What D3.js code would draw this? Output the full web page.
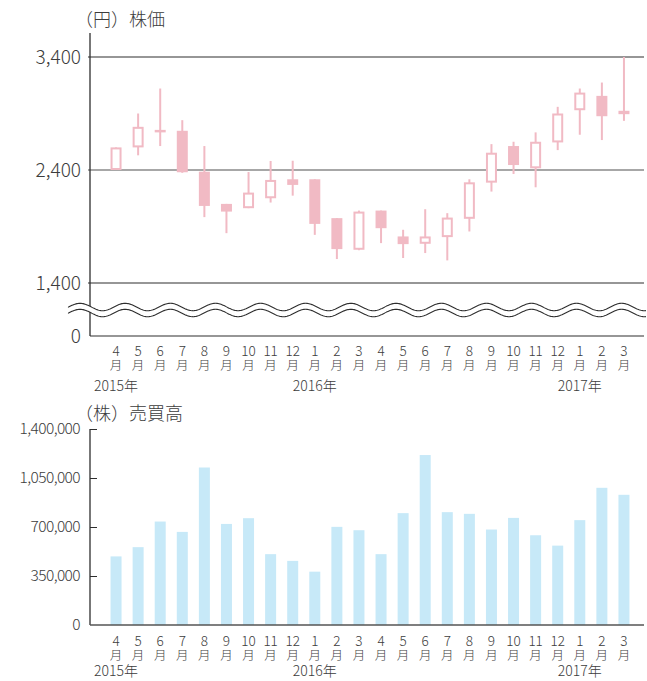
<!DOCTYPE html>
<html>
<head>
<meta charset="utf-8">
<script src="https://cdn.jsdelivr.net/npm/d3@7/dist/d3.min.js"></script>
<style>
  body { margin: 0; background: #fff; }
  text { font-family: "Noto Sans CJK JP", "Noto Sans", sans-serif; fill: #3c3c3c; font-weight: 300; }
</style>
</head>
<body>
<div id="chart"></div>
<script>
// months Apr 2015 - Mar 2017
var months = ["4","5","6","7","8","9","10","11","12","1","2","3","4","5","6","7","8","9","10","11","12","1","2","3"];
var years = [{idx: 0, label: "2015年"}, {idx: 9, label: "2016年"}, {idx: 21, label: "2017年"}];

// stock price (円)
var open  = [2400, 2600, 2750, 2747, 2385, 2100, 2062, 2150, 2318, 2318, 1974, 1694, 2041, 1812, 1747, 1806, 1968, 2288, 2612, 2415, 2644, 2929, 3056, 2894];
var close = [2600, 2782, 2755, 2380, 2082, 2032, 2200, 2312, 2268, 1923, 1700, 2032, 1885, 1744, 1812, 1979, 2291, 2553, 2444, 2650, 2900, 3085, 2876, 2924];
var high  = [2600, 2900, 3121, 2841, 2612, 2100, 2382, 2480, 2482, 2318, 1974, 2041, 2041, 1871, 2053, 2018, 2318, 2629, 2650, 2733, 2959, 3121, 3174, 3400];
var low   = [2400, 2530, 2612, 2375, 1983, 1841, 2062, 2112, 2173, 1826, 1612, 1690, 1753, 1621, 1665, 1600, 1856, 2209, 2365, 2247, 2576, 2712, 2665, 2835];
var priceTicks = [1400, 2400, 3400];

// volume (株)
var volume = [490000, 556000, 739000, 665000, 1125000, 722000, 763000, 506000, 458000, 381000, 701000, 677000,
              506000, 799000, 1214000, 806000, 794000, 682000, 765000, 641000, 567000, 749000, 980000, 930000];
var volumeTicks = [0, 350000, 700000, 1050000, 1400000];

var pink = "#f1bac4";
var blue = "#c7e9f8";
var width = 647, height = 681;

var svg = d3.select("#chart").append("svg")
    .attr("width", width)
    .attr("height", height);

var xScale = d3.scaleBand()
    .domain(d3.range(months.length))
    .range([105, 635]);
var cx = function(i) { return xScale(i) + xScale.bandwidth() / 2; };

var fmt = d3.format(",");

// ---------- top: candlesticks ----------
var yPrice = d3.scaleLinear()
    .domain([1400, 3400])
    .range([283, 57]);
var zeroY = 336;

svg.selectAll(".grid")
    .data(priceTicks)
    .enter().append("line")
    .attr("x1", 88).attr("x2", 644)
    .attr("y1", d => yPrice(d)).attr("y2", d => yPrice(d))
    .attr("stroke", d => d == 2400 ? "#8a8a8a" : "#2e2e2e")
    .attr("stroke-width", d => d == 2400 ? 1.6 : 1.2);

svg.append("line")
    .attr("x1", 90).attr("x2", 90)
    .attr("y1", 33).attr("y2", zeroY)
    .attr("stroke", "#2e2e2e").attr("stroke-width", 1.3);
svg.append("line")
    .attr("x1", 90).attr("x2", 644)
    .attr("y1", zeroY).attr("y2", zeroY)
    .attr("stroke", "#2e2e2e").attr("stroke-width", 1.2);

// axis break waves
var period = 45.15, amp = 3.7;
function wave(yc) {
    var pts = [];
    for (var x = 68; x <= 646; x += 1) {
        pts.push([x, yc - amp * Math.cos(2 * Math.PI * (x - 80) / period)]);
    }
    return pts;
}
var upper = wave(307), lower = wave(313);
svg.append("path")
    .attr("d", d3.line()(upper.concat(lower.slice().reverse())) + "Z")
    .attr("fill", "#fff");
svg.selectAll(".wave")
    .data([upper, lower])
    .enter().append("path")
    .attr("d", d => d3.line()(d))
    .attr("fill", "none")
    .attr("stroke", "#2e2e2e")
    .attr("stroke-width", 1.1);

svg.selectAll(".plabel")
    .data(priceTicks)
    .enter().append("text")
    .attr("x", 81)
    .attr("y", d => yPrice(d))
    .attr("dy", "0.35em")
    .attr("text-anchor", "end")
    .style("font-size", "19px")
    .text(d => fmt(d));
svg.append("text")
    .attr("x", 81).attr("y", zeroY)
    .attr("dy", "0.35em")
    .attr("text-anchor", "end")
    .style("font-size", "19px")
    .text("0");

svg.append("text")
    .attr("x", 75).attr("y", 26)
    .style("font-size", "18px")
    .text("（円）株価");

var candles = svg.selectAll(".candle")
    .data(d3.range(months.length))
    .enter().append("g")
    .attr("class", "candle");

candles.append("line")
    .attr("x1", i => cx(i)).attr("x2", i => cx(i))
    .attr("y1", i => yPrice(high[i])).attr("y2", i => yPrice(low[i]))
    .attr("stroke", pink).attr("stroke-width", 2);

candles.append("rect")
    .attr("x", i => close[i] >= open[i] ? cx(i) - 4.5 : cx(i) - 5.5)
    .attr("width", i => close[i] >= open[i] ? 9 : 11)
    .attr("y", i => yPrice(Math.max(open[i], close[i])) + (close[i] >= open[i] ? 1 : 0))
    .attr("height", i => Math.max(0.5, Math.abs(yPrice(open[i]) - yPrice(close[i])) - (close[i] >= open[i] ? 2 : 0)))
    .attr("fill", i => close[i] >= open[i] ? "#fff" : pink)
    .attr("stroke", i => close[i] >= open[i] ? pink : "none")
    .attr("stroke-width", 2);

function monthLabels(yNum, yMon, yYear) {
    var g = svg.append("g");
    g.selectAll(".mnum")
        .data(months)
        .enter().append("text")
        .attr("x", (d, i) => cx(i))
        .attr("y", yNum)
        .attr("dy", "0.35em")
        .attr("text-anchor", "middle")
        .style("font-size", "13.5px")
        .text(d => d);
    g.selectAll(".mchar")
        .data(months)
        .enter().append("text")
        .attr("x", (d, i) => cx(i))
        .attr("y", yMon)
        .attr("dy", "0.35em")
        .attr("text-anchor", "middle")
        .style("font-size", "12.5px")
        .text("月");
    g.selectAll(".year")
        .data(years)
        .enter().append("text")
        .attr("x", d => cx(d.idx))
        .attr("y", yYear)
        .attr("dy", "0.35em")
        .attr("text-anchor", "middle")
        .style("font-size", "14px")
        .text(d => d.label);
}
monthLabels(351.5, 366, 386);

// ---------- bottom: volume bars ----------
var yVol = d3.scaleLinear()
    .domain([0, 1400000])
    .range([625, 429]);

svg.append("text")
    .attr("x", 75).attr("y", 420)
    .style("font-size", "18px")
    .text("（株）売買高");

svg.selectAll(".bar")
    .data(volume)
    .enter().append("rect")
    .attr("x", (d, i) => cx(i) - 5.5)
    .attr("width", 11)
    .attr("y", d => yVol(d))
    .attr("height", d => yVol(0) - yVol(d))
    .attr("fill", blue);

var yAxis = d3.axisRight(yVol)
    .tickValues(volumeTicks.slice(1))
    .tickSize(7)
    .tickFormat("");
svg.append("g")
    .attr("transform", "translate(90,0)")
    .call(yAxis)
    .call(g => g.select(".domain").remove())
    .selectAll("line").attr("stroke", "#2e2e2e");

svg.append("line")
    .attr("x1", 90).attr("x2", 90)
    .attr("y1", 429).attr("y2", 625)
    .attr("stroke", "#2e2e2e").attr("stroke-width", 1.3);
svg.append("line")
    .attr("x1", 90).attr("x2", 644)
    .attr("y1", 625).attr("y2", 625)
    .attr("stroke", "#555").attr("stroke-width", 1.3);

svg.selectAll(".vlabel")
    .data(volumeTicks)
    .enter().append("text")
    .attr("x", 80)
    .attr("y", d => yVol(d))
    .attr("dy", "0.35em")
    .attr("text-anchor", "end")
    .style("font-size", "15.5px")
    .style("letter-spacing", "-0.6px")
    .text(d => fmt(d));

monthLabels(641.5, 655.5, 671.5);
</script>
</body>
</html>
